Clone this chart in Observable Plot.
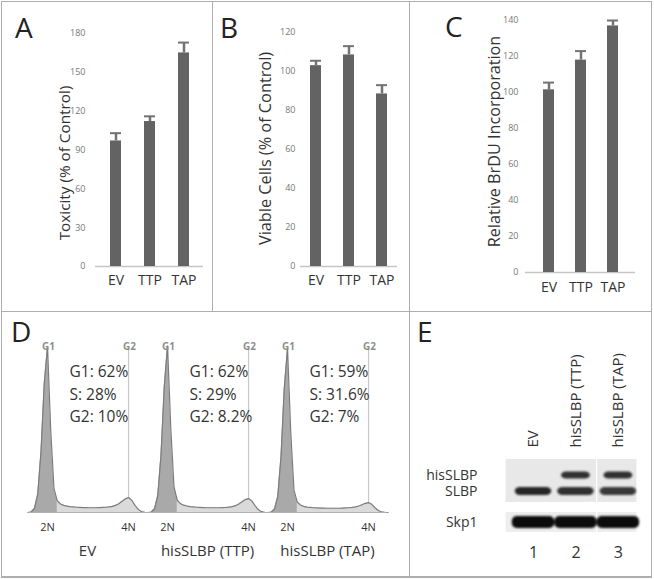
<!DOCTYPE html>
<html>
<head>
<meta charset="utf-8">
<script src="https://cdn.jsdelivr.net/npm/d3@7"></script>
<script src="https://cdn.jsdelivr.net/npm/@observablehq/plot@0.6"></script>
<style>
  html, body { margin: 0; padding: 0; background: #fff; }
  #fig { position: relative; width: 654px; height: 579px; overflow: hidden; background: #fff; font-family: "Open Sans", sans-serif; }
  .panel { position: absolute; }
  .panel svg { display: block; max-width: none; background: transparent; }
  .rule { position: absolute; background: #aeaeae; }
  .letter { position: absolute; font-family: "Open Sans", sans-serif; font-size: 28px; line-height: 1; color: #222; }
</style>
</head>
<body>
<div id="fig"></div>
<script>
// ---------- data: panels A-C ----------
const groups = ["EV", "TTP", "TAP"];
const toxicity = [97, 112, 165];
const toxicityErr = [6, 4, 8];
const toxicityTicks = [0, 30, 60, 90, 120, 150, 180];
const viable = [103, 108.5, 88.5];
const viableErr = [2.5, 4.5, 4.5];
const viableTicks = [0, 20, 40, 60, 80, 100, 120];
const brdu = [101.5, 118, 137];
const brduErr = [4, 5, 3];
const brduTicks = [0, 20, 40, 60, 80, 100, 120, 140];

// ---------- data: panel D (DNA content histograms) ----------
const samples = ["EV", "hisSLBP (TTP)", "hisSLBP (TAP)"];
const dnaChannel = [38,40,42,44,46,48,50,52,54,56,58,60,62,64,66,68,70,72,74,76,78,80,82,84,86,88,90,92,94,96,98,100,102,104,106,108,110,112];
const countsEV  = [0,4,25,110,360,760,975,480,140,70,50,42,38,35,33,31,30,29,29,28,28,28,29,30,31,33,36,42,52,66,80,88,72,42,18,6,1,0];
const countsTTP = [0,3,22,100,340,740,980,500,150,72,52,43,38,35,33,31,30,29,28,28,28,28,28,29,30,32,35,40,50,63,76,82,68,40,17,5,1,0];
const countsTAP = [0,3,20,95,330,730,965,470,130,62,44,36,32,30,28,27,26,26,25,25,25,25,25,26,27,28,30,33,38,46,54,58,48,28,12,4,1,0];
const g1Pct = ["62%", "62%", "59%"];
const sPct = ["28%", "29%", "31.6%"];
const g2Pct = ["10%", "8.2%", "7%"];
const phaseLabels = ["G1", "G2"];
const phaseChannel = [50, 100];
const ploidyLabels = ["2N", "4N"];

// ---------- data: panel E (western blot) ----------
const lanes = [1, 2, 3];
const laneNames = ["EV", "hisSLBP (TTP)", "hisSLBP (TAP)"];
const proteins = ["hisSLBP", "SLBP", "Skp1"];
const proteinMigration = [8, 16, 31.5];
const hisSLBPSignal = [0, 0.95, 0.95];
const slbpSignal = [1, 0.95, 0.9];
const skp1Signal = [1, 1, 1];
const stripTop = [0, 26.5];
const stripBottom = [21.5, 36.5];
const spliceAt = 2.5;

const FONT = '"Open Sans", sans-serif';
const fig = document.getElementById("fig");

function place(node, left, top, width) {
  const d = document.createElement("div");
  d.className = "panel";
  d.style.left = left + "px";
  d.style.top = top + "px";
  d.style.width = width + "px";
  d.appendChild(node);
  fig.appendChild(d);
}

function barPanel(o) {
  const data = groups.map((g, i) => ({g, v: o.values[i], e: o.values[i] + o.errs[i]}));
  return Plot.plot({
    width: o.width, height: 311,
    marginTop: o.marginTop, marginBottom: o.marginBottom,
    marginLeft: o.marginLeft, marginRight: o.marginRight,
    style: {fontFamily: FONT, background: "transparent"},
    x: {domain: groups, paddingInner: o.paddingInner, paddingOuter: o.paddingOuter},
    y: {domain: [0, o.yMax]},
    marks: [
      Plot.ruleY([0], {stroke: "#c6c6c6", strokeWidth: 1.5}),
      Plot.barY(data, {x: "g", y: "v", fill: "#636363"}),
      Plot.ruleX(data, {x: "g", y1: "v", y2: "e", stroke: "#737373", strokeWidth: 2.5}),
      Plot.tickY(data, {x: "g", y: "e", stroke: "#737373", strokeWidth: 2}),
      Plot.axisY({ticks: o.ticks, tickSize: 0, tickPadding: o.yTickPadding, fontSize: 9, fill: "#777", label: null}),
      Plot.axisX({tickSize: 0, tickPadding: o.xTickPadding, fontSize: 14, fill: "#333", label: null}),
      Plot.text([o.title], {frameAnchor: "left", textAnchor: "middle", lineAnchor: "middle", rotate: -90,
        dx: o.titleDx, dy: o.titleDy || 0, fontSize: o.titleSize, fill: "#333"})
    ]
  });
}

place(barPanel({values: toxicity, errs: toxicityErr, ticks: toxicityTicks, yMax: 180, title: "Toxicity (% of Control)",
  width: 212, marginTop: 33, marginBottom: 45, marginLeft: 95, marginRight: 9,
  paddingInner: 0.686, paddingOuter: 0.386, yTickPadding: 10, xTickPadding: 9,
  titleDx: -30, titleDy: 13, titleSize: 15.3}), 0, 0, 212);

place(barPanel({values: viable, errs: viableErr, ticks: viableTicks, yMax: 120, title: "Viable Cells (% of Control)",
  width: 197, marginTop: 32, marginBottom: 45, marginLeft: 88, marginRight: 12,
  paddingInner: 0.667, paddingOuter: 0.30, yTickPadding: 5, xTickPadding: 9,
  titleDx: -35, titleDy: -1, titleSize: 16.3}), 212, 0, 197);

place(barPanel({values: brdu, errs: brduErr, ticks: brduTicks, yMax: 140, title: "Relative BrDU Incorporation",
  width: 245, marginTop: 20, marginBottom: 39, marginLeft: 116, marginRight: 19,
  paddingInner: 0.66, paddingOuter: 0.52, yTickPadding: 7, xTickPadding: 10,
  titleDx: -31, titleDy: -5, titleSize: 16.2}), 409, 0, 245);

// ---------- panel D ----------
const countsBySample = [countsEV, countsTTP, countsTAP];
const hist = [];
samples.forEach((s, si) => dnaChannel.forEach((c, ci) => hist.push({sample: s, ch: c, n: countsBySample[si][ci]})));
const g1Region = hist.filter(d => d.ch >= 40 && d.ch <= 56);
const stats = samples.map((s, i) => ({sample: s, label: `G1: ${g1Pct[i]}\nS: ${sPct[i]}\nG2: ${g2Pct[i]}`}));
const phases = phaseLabels.map((l, i) => ({label: l, ch: phaseChannel[i]}));

place(Plot.plot({
  width: 409, height: 266,
  marginTop: 30, marginBottom: 66, marginLeft: 27, marginRight: 22,
  style: {fontFamily: FONT, background: "transparent"},
  fx: {domain: samples, padding: 0},
  x: {domain: [37.65, 111.7]},
  y: {domain: [0, 1000], axis: null},
  marks: [
    Plot.ruleX(phases, {x: "ch", stroke: "#c8c8c8", strokeWidth: 1.2, insetTop: 6}),
    Plot.areaY(hist, {fx: "sample", x: "ch", y: "n", fill: "#dadada"}),
    Plot.areaY(g1Region, {fx: "sample", x: "ch", y: "n", fill: "#a9a9a9"}),
    Plot.lineY(hist, {fx: "sample", x: "ch", y: "n", stroke: "#7c7c7c", strokeWidth: 1.2}),
    Plot.ruleY([0], {stroke: "#b0b0b0"}),
    Plot.text(phases, {x: "ch", text: "label", frameAnchor: "top", dx: 1, fontSize: 10, fontWeight: "bold", fill: "#8e8e8e"}),
    Plot.text(stats, {fx: "sample", text: "label", frameAnchor: "top-left", dx: 42, dy: 50,
      textAnchor: "start", lineAnchor: "middle", lineHeight: 1.45, fontSize: 15.5, fill: "#333"}),
    Plot.axisX({ticks: phaseChannel, tickFormat: d => ploidyLabels[phaseChannel.indexOf(d)],
      tickSize: 0, tickPadding: 11, fontSize: 11, fill: "#333", label: null}),
    Plot.axisFx({anchor: "bottom", tickSize: 0, tickPadding: 33, fontSize: 15, fill: "#333", label: null})
  ]
}), 0, 312, 409);

// ---------- panel E ----------
const laneDomain = [0.34, 3.45];
const strips = [];
stripTop.forEach((t, i) => {
  strips.push({x1: laneDomain[0], x2: spliceAt, y1: t, y2: stripBottom[i], tone: i});
  strips.push({x1: spliceAt, x2: laneDomain[1], y1: t, y2: stripBottom[i], tone: i});
});
const signals = [hisSLBPSignal, slbpSignal, skp1Signal];
const halfWidth = {hisSLBP: 0.34, SLBP: 0.43, Skp1: 0.5};
const halfThick = {hisSLBP: 1.8, SLBP: 2.0, Skp1: 3.0};
const bands = [];
proteins.forEach((p, pi) => lanes.forEach((l, li) => {
  if (signals[pi][li] > 0) bands.push({protein: p, lane: l, pos: proteinMigration[pi], signal: signals[pi][li]});
}));

place(Plot.plot({
  width: 245, height: 266,
  marginTop: 147, marginBottom: 46, marginLeft: 96, marginRight: 17,
  style: {fontFamily: FONT, background: "transparent"},
  x: {domain: laneDomain},
  y: {domain: [0, 36.5], reverse: true},
  marks: [
    Plot.rect(strips, {x1: "x1", x2: "x2", y1: "y1", y2: "y2", insetLeft: 0.6, insetRight: 0.6,
      fill: d => d.tone === 0 ? "#e8e8e8" : "#eeeeee"}),
    Plot.rect(bands, {
      x1: d => d.lane - halfWidth[d.protein], x2: d => d.lane + halfWidth[d.protein],
      y1: d => d.pos - halfThick[d.protein], y2: d => d.pos + halfThick[d.protein],
      rx: 5, fill: d => d.protein === "Skp1" ? "#0c0c0c" : "#262626", fillOpacity: d => d.signal,
      imageFilter: "blur(1.3px)"
    }),
    Plot.axisY({ticks: proteinMigration, tickFormat: d => proteins[proteinMigration.indexOf(d)],
      tickSize: 0, tickPadding: 28, fontSize: 14, lineHeight: 1, fill: "#333", label: null}),
    Plot.axisX({anchor: "top", ticks: lanes, tickFormat: d => laneNames[d - 1], tickRotate: -90,
      textAnchor: "start", tickSize: 0, tickPadding: 12, fontSize: 15, fill: "#333", label: null}),
    Plot.axisX({anchor: "bottom", ticks: lanes, tickFormat: d => String(d),
      tickSize: 0, tickPadding: 14, fontSize: 16, fill: "#333", label: null})
  ]
}), 409, 312, 245);

// ---------- panel letters & borders ----------
[["A", 15, 13], ["B", 220, 13], ["C", 445, 12], ["D", 11, 317], ["E", 417, 317]].forEach(([t, l, tp]) => {
  const d = document.createElement("div");
  d.className = "letter";
  d.textContent = t;
  d.style.left = l + "px";
  d.style.top = tp + "px";
  fig.appendChild(d);
});
function line(l, t, w, h) {
  const d = document.createElement("div");
  d.className = "rule";
  Object.assign(d.style, {left: l + "px", top: t + "px", width: w + "px", height: h + "px"});
  fig.appendChild(d);
}
line(1, 1, 651, 1);
line(1, 576, 651, 2);
line(1, 1, 1, 577);
line(651, 1, 1, 577);
line(1, 311, 651, 1);
line(212, 1, 1, 311);
line(409, 1, 1, 577);
</script>
</body>
</html>
